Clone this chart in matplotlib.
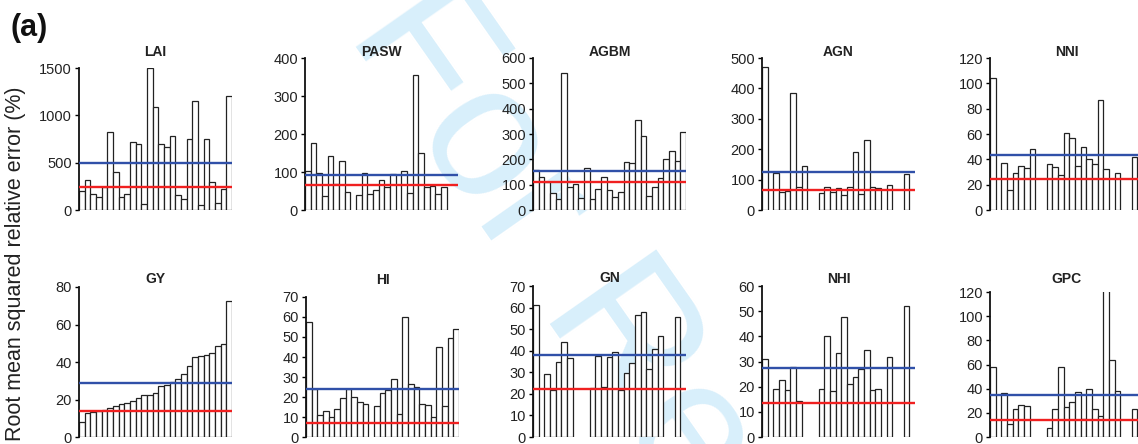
import numpy as np
import matplotlib
matplotlib.use('Agg')
import matplotlib.pyplot as plt

plt.rcParams['font.family'] = ['Liberation Sans', 'DejaVu Sans']

nan = np.nan
slots = np.arange(1, 28)

# RMSRE (%) of the 27 model runs for each variable, gaps = no output
lai = [200, 318, 173, 141, 240, 822, 400, 135, 173, 716, 702, 60, 1500, 1087,
       695, 664, 777, 159, 113, 748, 1154, 53, 748, 293, 78, 219, 1200]
pasw = [102, 177, 98, 38, 143, 69, 130, 47, nan, 39, 98, 41, 52, 80, 61, 94,
        nan, 102, 45, 354, 150, 60, 62, 41, 60, nan, nan]
agbm = [158, 129, 112, 66, 42, 541, 90, 102, 46, 165, 42, 83, 132, 77, 53, 70,
        191, 187, 355, 294, 55, 92, 125, 200, 231, 195, 306]
agn = [470, nan, 121, 60, 62, 385, 77, 145, nan, nan, 55, 75, 60, 73, 49, 76,
       192, 53, 231, 75, 71, nan, 82, nan, nan, 118, nan]
nni = [104, nan, 37.5, 16, 29, 35, 33, 48.5, nan, nan, 36, 34, 28, 60.5, 56.5,
       35, 49.5, 40.6, 36.7, 86.5, 32, nan, 29, nan, nan, 41.7, nan]
gy = [8, 13, 13.5, 14, 14.5, 15.5, 16.5, 17.5, 18, 19, 21, 22.5, 22.5, 23.5,
      27, 28, 29.5, 31, 33.5, 38, 42.5, 43, 44, 45, 48.5, 49.5, 72.5]
hi = [57.4, 24, 11, 13, 10, 14, 19.6, 24, 20.2, 17.4, 16.6, nan, 15.3, 22.2,
      23.5, 29, 11.6, 60, 26.7, 25.2, 16.4, 15.8, 9.8, 44.8, 15.3, 49.6, 53.9]
gn = [61, nan, 29.3, 22, 34.8, 44, 36.4, nan, nan, nan, 22.5, 37.6, 23.1, 37.3,
      39.2, 22, 29.9, 34.2, 56.6, 57.8, 31.5, 40.7, 46.9, nan, nan, 55.5, nan]
nhi = [30.9, nan, 19.1, 22.7, 18.7, 27.8, 14.5, nan, nan, nan, 19, 40.1, 18.3,
       33.4, 47.8, 21.1, 23.7, 27.2, 34.6, 18.5, 19, nan, 31.9, nan, nan, 52.1, nan]
gpc = [58, nan, 36.4, 10.8, 23.4, 26.5, 25.4, nan, nan, nan, 7.4, 22.9, 58, 24.8,
       28.7, 37.2, 14.9, 39.7, 23.4, 17.1, 122, 64, 38, nan, nan, 23.4, nan]

# blue = ensemble mean, red = ensemble median
blue = [500, 93, 154, 126, 43.5, 29, 24.2, 38.1, 27.3, 35]
red = [245, 65, 112, 66, 24.8, 13.8, 7, 22.4, 13.5, 13.8]

names = ['LAI', 'PASW', 'AGBM', 'AGN', 'NNI', 'GY', 'HI', 'GN', 'NHI', 'GPC']
series = [lai, pasw, agbm, agn, nni, gy, hi, gn, nhi, gpc]
ymax = [1500, 400, 600, 500, 120, 80, 70, 70, 60, 120]
ystep = [500, 100, 100, 100, 20, 20, 10, 10, 10, 20]

# panel boxes in pixels: left, top of axis, bottom
W, H = 1138, 444
boxes = [(79, 68, 210), (305, 58, 210), (533, 58, 210), (762, 58, 210), (990, 58, 210),
         (79, 287, 437), (306, 297, 437), (533, 286, 437), (762, 286, 437), (990, 292, 437)]
title_y = [52, 52, 52, 52, 52, 279, 280, 278, 279, 279]
pw = 153

fig = plt.figure(figsize=(W / 100, H / 100), dpi=100)

# manuscript watermark behind the panels
fig.text(0.694, -0.31, 'For Review Only', rotation=-55, fontsize=137,
         color='#d8effb', ha='center', va='center', rotation_mode='anchor',
         zorder=-10)

for i in range(10):
    l, t, b = boxes[i]
    ax = fig.add_axes([l / W, (H - b) / H, pw / W, (b - t) / H])
    ax.patch.set_visible(False)
    v = np.array(series[i], dtype=float)
    ok = ~np.isnan(v)
    ax.bar(slots[ok], v[ok], width=1.0, facecolor='white', edgecolor='#222222',
           linewidth=0.9, zorder=2)
    ax.axhline(blue[i], color='#3050a8', lw=1.7, zorder=3)
    ax.axhline(red[i], color='#f02020', lw=1.7, zorder=3)
    ax.set_xlim(0.5, 27.5)
    ax.set_ylim(0, ymax[i])
    ax.set_yticks(np.arange(0, ymax[i] + 1, ystep[i]))
    ax.set_xticks([])
    for s in ['top', 'right', 'bottom']:
        ax.spines[s].set_visible(False)
    ax.spines['left'].set_linewidth(1.3)
    ax.spines['left'].set_color('#111111')
    ax.tick_params(axis='y', direction='out', length=3, width=1.0,
                   labelsize=10.5, labelcolor='#222222', pad=2)
    fig.text((l + pw / 2) / W, (H - title_y[i]) / H, names[i], ha='center',
             va='center', fontsize=10, fontweight='bold', color='#222222')

fig.text(16 / W, (H - 264) / H, 'Root mean squared relative error (%)',
         rotation=90, ha='center', va='center', fontsize=15.5, color='#222222')
fig.text(10 / W, (H - 28) / H, '(a)', ha='left', va='center', fontsize=22,
         fontweight='bold', color='#111111')

fig.savefig('out.png', dpi=100)
